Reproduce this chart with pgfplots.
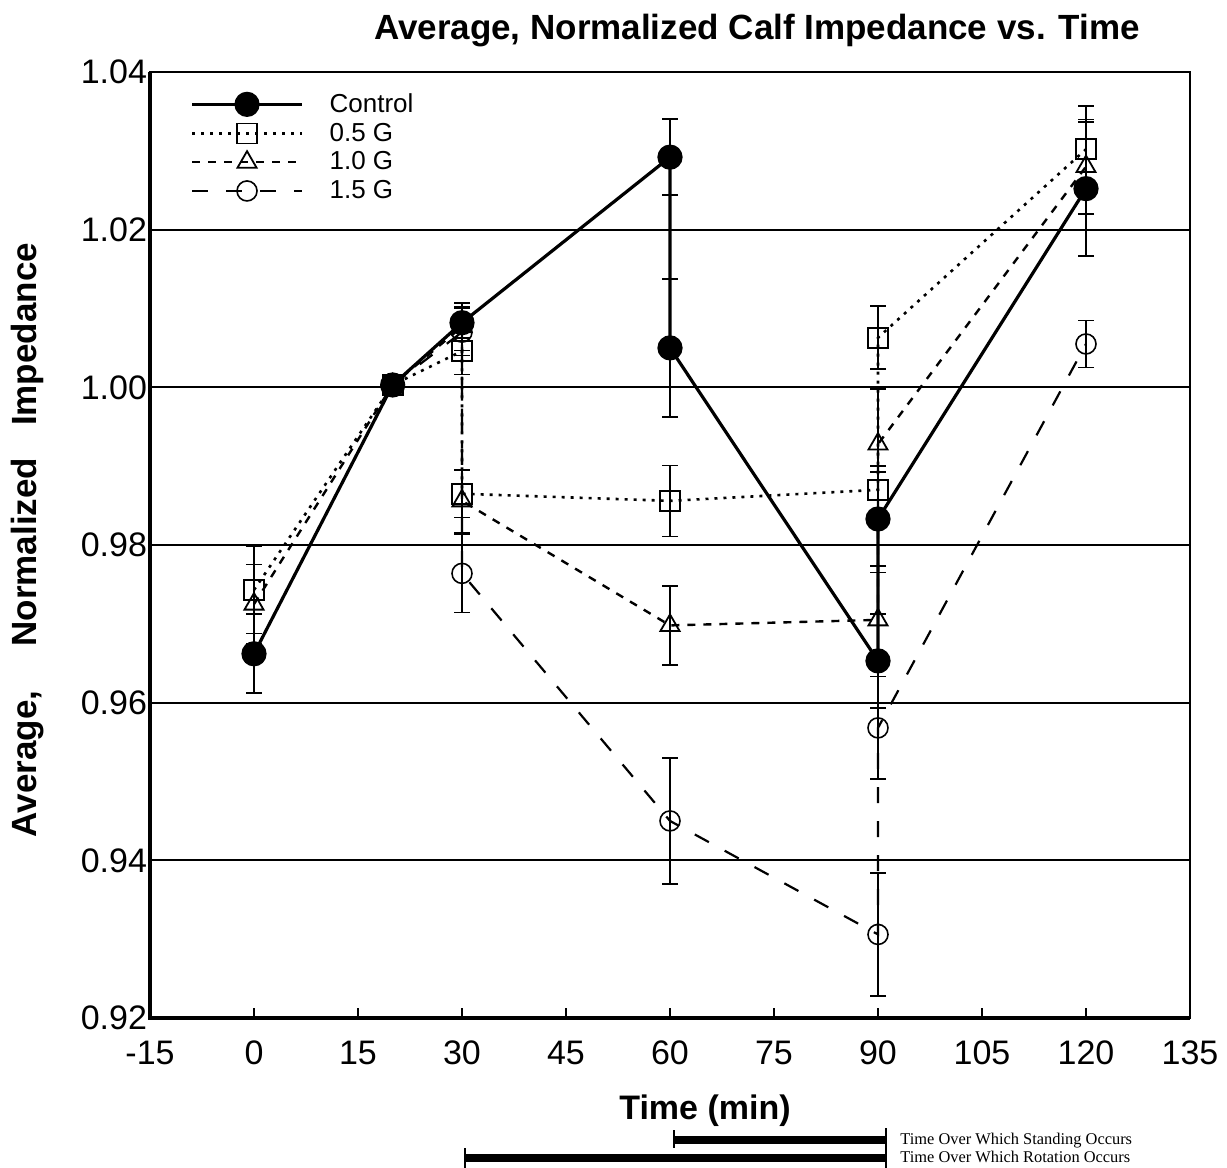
\documentclass[border=0pt]{standalone}
\usepackage{fontspec}
\setmainfont{Liberation Sans}
\newfontfamily\timesfont{Liberation Serif}
\usepackage{pgfplots}
\pgfplotsset{compat=1.18}
\begin{document}
\begin{tikzpicture}
\useasboundingbox (-75pt,-75pt) rectangle (538.5pt,509pt);
\begin{axis}[
  scale only axis, width=520pt, height=473pt,
  xmin=-15, xmax=135, ymin=0.92, ymax=1.04,
  xtick={-15,0,15,30,45,60,75,90,105,120,135},
  ytick={0.92,0.94,0.96,0.98,1.00,1.02,1.04},
  yticklabel style={/pgf/number format/fixed, /pgf/number format/fixed zerofill, /pgf/number format/precision=2, xshift=2pt},
  /pgf/number format/assume math mode=true,
  tick label style={font=\fontsize{17}{17}\selectfont},
  xticklabel style={yshift=-8pt},
  tick align=inside, xtick pos=left, ytick pos=left,
  major tick length=5pt, tick style={black, line width=0.8pt},
  ymajorgrids, grid style={black, line width=1pt},
  axis line style={line width=0.8pt},
  clip=false,
  reverse legend,
  legend cell align=left,
  legend style={at={(rel axis cs:0.0385,0.982)}, anchor=north west, draw=none, fill=none,
    font=\fontsize{13}{13}\selectfont, inner sep=0pt, row sep=-0.2pt,
    /tikz/every odd column/.append style={column sep=11pt}},
  legend image code/.code={\draw[mark repeat=2,mark phase=2] plot coordinates {(0pt,0pt) (27.5pt,0pt) (55pt,0pt)};},
]
% 1.5 G
\addplot[black, line width=1.1pt, dash pattern=on 8pt off 9pt,
  mark=o, mark size=5pt, mark options={solid, fill=white, line width=0.8pt},
  error bars/.cd, y dir=both, y explicit,
  error bar style={solid, line width=0.7pt},
  error mark options={rotate=90, mark size=4pt, line width=0.7pt, solid}]
coordinates {
(20,1.0003) +- (0,0)
(30,1.0070) +- (0,0.003)
(30,0.9764) +- (0,0.005)
(60,0.9450) +- (0,0.008)
(90,0.9306) +- (0,0.0078)
(90,0.9568) +- (0,0.0065)
(120,1.0055) +- (0,0.003)
};
\addlegendentry{1.5 G}
% 1.0 G
\addplot[black, line width=1.2pt, dash pattern=on 4pt off 4pt,
  mark=triangle, mark size=5.5pt, mark options={solid, fill=white, line width=0.9pt},
  error bars/.cd, y dir=both, y explicit,
  error bar style={solid, line width=0.7pt},
  error mark options={rotate=90, mark size=4pt, line width=0.7pt, solid}]
coordinates {
(0,0.9725) +- (0,0.005)
(20,1.0003) +- (0,0)
(30,1.0077) +- (0,0.003)
(30,0.9856) +- (0,0.004)
(60,0.9698) +- (0,0.005)
(90,0.9705) +- (0,0.006)
(90,0.9928) +- (0,0.007)
(120,1.0280) +- (0,0.006)
};
\addlegendentry{1.0 G}
% 0.5 G
\addplot[black, line width=1.3pt, dash pattern=on 1.5pt off 3pt,
  mark=square, mark size=5pt, mark options={solid, fill=white, line width=0.9pt},
  error bars/.cd, y dir=both, y explicit,
  error bar style={solid, line width=0.7pt},
  error mark options={rotate=90, mark size=4pt, line width=0.7pt, solid}]
coordinates {
(0,0.9743) +- (0,0.0055)
(20,1.0003) +- (0,0)
(30,1.0046) +- (0,0.003)
(30,0.9865) +- (0,0.003)
(60,0.9856) +- (0,0.0045)
(90,0.9870) +- (0,0.003)
(90,1.0063) +- (0,0.004)
(120,1.0302) +- (0,0.0055)
};
\addlegendentry{0.5 G}
% Control
\addplot[black, line width=1.6pt, solid,
  mark=*, mark size=5.5pt, mark options={solid, fill=black},
  error bars/.cd, y dir=both, y explicit,
  error bar style={solid, line width=1pt},
  error mark options={rotate=90, mark size=4pt, line width=1pt, solid}]
coordinates {
(0,0.9662) +- (0,0.005)
(20,1.0003) +- (0,0)
(30,1.0082) +- (0,0.002)
(60,1.0292) +- (0,0.0048)
(60,1.0050) +- (0,0.0088)
(90,0.9653) +- (0,0.006)
(90,0.9833) +- (0,0.006)
(120,1.0252) +- (0,0.0085)
};
\addlegendentry{Control}
\draw[line width=1.6pt] (rel axis cs:0,1) -- (rel axis cs:0,0) -- (rel axis cs:1,0);
\end{axis}
% titles
\node[anchor=base, font=\fontsize{17.5}{17.5}\selectfont\bfseries] at (303.5pt,489pt) {Average, Normalized Calf Impedance vs. Time};
\node[rotate=90, font=\fontsize{17.5}{17.5}\selectfont\bfseries] at (-61pt,239pt) {Average,\hspace{22pt}Normalized\hspace{16pt}Impedance};
\node[anchor=base, font=\fontsize{17}{17}\selectfont\bfseries] at (277.5pt,-50.5pt) {Time (min)};
% annotation bars
\draw[line width=4pt] (262pt,-61pt) -- (368pt,-61pt);
\draw[line width=0.8pt] (262pt,-56pt) -- (262pt,-65pt);
\draw[line width=0.8pt] (368pt,-55pt) -- (368pt,-66pt);
\draw[line width=4pt] (157.5pt,-70pt) -- (368pt,-70pt);
\draw[line width=0.8pt] (157.5pt,-65pt) -- (157.5pt,-75pt);
\draw[line width=0.8pt] (368pt,-65pt) -- (368pt,-75pt);
\node[anchor=base west, inner sep=0pt, font=\timesfont\fontsize{8.2}{8.2}\selectfont] at (375pt,-63pt) {Time Over Which Standing Occurs};
\node[anchor=base west, inner sep=0pt, font=\timesfont\fontsize{8.2}{8.2}\selectfont] at (375pt,-72pt) {Time Over Which Rotation Occurs};
\end{tikzpicture}
\end{document}
